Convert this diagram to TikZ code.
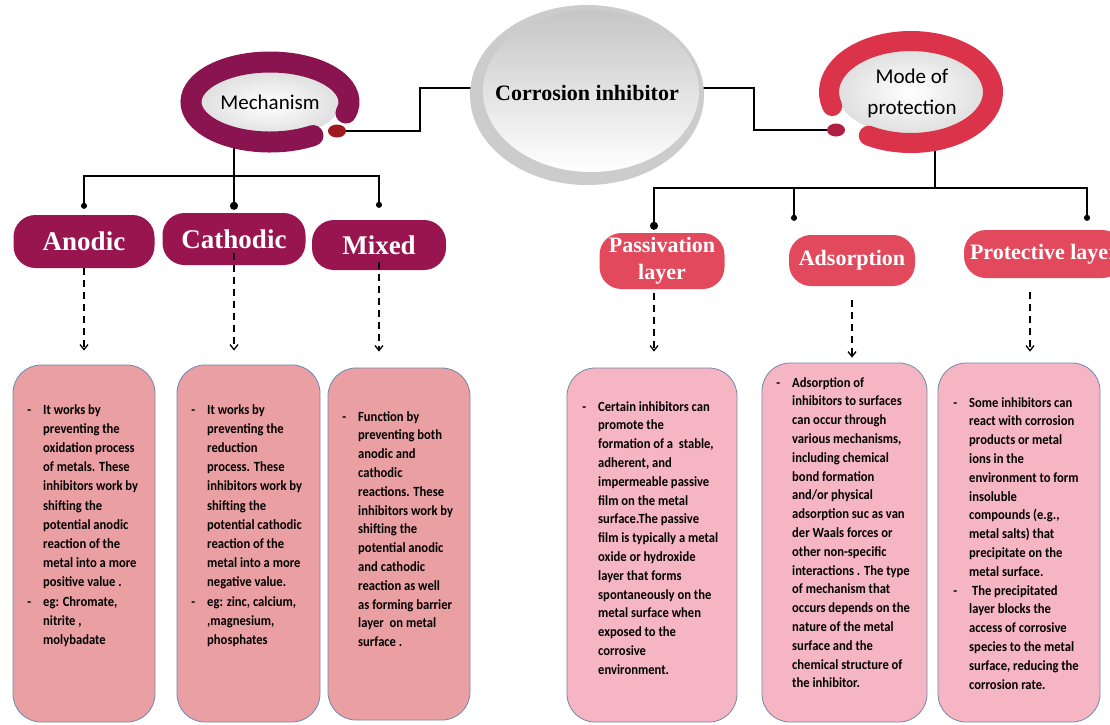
\documentclass[tikz,border=0pt]{standalone}
\usepackage{fontspec}
\setmainfont{Carlito}
\newfontfamily\headfont{Liberation Serif}
\newfontfamily\narrowfont[FakeStretch=0.9]{Carlito}
\usetikzlibrary{arrows.meta,shapes.geometric,backgrounds}
\definecolor{mechred}{HTML}{98154F}
\definecolor{mechring}{HTML}{8A1450}
\definecolor{mechdotc}{HTML}{9E1A1F}
\definecolor{modered}{HTML}{E2495C}
\definecolor{modering}{HTML}{DB3349}
\definecolor{modedotc}{HTML}{B01F45}
\definecolor{leftbox}{HTML}{EA9FA2}
\definecolor{rightbox}{HTML}{F5B5C3}
\definecolor{boxline}{HTML}{7088AA}

\begin{document}
\begin{tikzpicture}[x=1pt,y=-1pt]
\tikzset{
    mechhead/.style={fill=mechred,text=white,rounded corners=22pt,inner sep=0pt,
        font=\headfont\bfseries\fontsize{27}{30}\selectfont},
    modehead/.style={fill=modered,text=white,rounded corners=22pt,inner sep=0pt,align=center,
        font=\headfont\bfseries\fontsize{22}{27}\selectfont},
    infobox/.style={draw=boxline,line width=0.8pt,rounded corners=28pt},
    infotext/.style={anchor=north west,inner sep=0pt,align=left,text=black,
        font=\narrowfont\bfseries\fontsize{14}{18.8}\selectfont},
    tree/.style={line width=1.5pt},
    dotend/.style={tree,-{Circle[length=6pt]}},
    dasharrow/.style={line width=1.3pt,dash pattern=on 7pt off 5pt,
        -{Straight Barb[length=5pt,width=8pt]}}
}
\useasboundingbox (0,0) rectangle (1110,724);

\fill[gray!40] (587,95) ellipse [x radius=117,y radius=90];
\shade[top color=gray!45,bottom color=white] (591,91) ellipse [x radius=108,y radius=81];
\node[inner sep=1pt,font=\headfont\bfseries\fontsize{22}{25}\selectfont] (corr) at (587,93) {Corrosion inhibitor};

\shade[inner color=white,outer color=gray!25] (270,104) ellipse [x radius=70,y radius=33];
\draw[mechring,line width=21pt,line cap=round] (270,102) ++(57:79 and 40)
    arc [start angle=57,end angle=376,x radius=79,y radius=40];
\node[font=\fontsize{21}{24}\selectfont] (mech) at (270,102) {Mechanism};
\node[ellipse,fill=mechdotc,minimum width=18pt,minimum height=13pt,inner sep=0pt] (mechdot) at (337,131) {};

\shade[inner color=white,outer color=gray!25] (911,92) ellipse [x radius=74,y radius=43];
\draw[modering,line width=20pt,line cap=round] (911,92) ++(164:82 and 51)
    arc [start angle=164,end angle=481,x radius=82,y radius=51];
\node[align=center,font=\fontsize{21}{31}\selectfont] (mode) at (912,93) {Mode of\\protection};
\node[ellipse,fill=modedotc,minimum width=18pt,minimum height=13pt,inner sep=0pt] (modedot) at (836,130) {};

\node[mechhead,minimum width=141pt,minimum height=53pt] (anodic) at (84,241.5) {Anodic};
\node[mechhead,minimum width=143pt,minimum height=52pt] (cathodic) at (234,239) {Cathodic};
\node[mechhead,minimum width=134pt,minimum height=50pt] (mixed) at (379,245) {Mixed};

\node[modehead,minimum width=125pt,minimum height=56pt] (passiv) at (662,261) {Passivation\\layer};
\node[modehead,minimum width=126pt,minimum height=51pt] (adsorp) at (852,260.5) {Adsorption};
\node[modehead,minimum width=160pt,minimum height=48pt] (protect) at (1044,254) {Protective layer};

\node[infobox,fill=leftbox,minimum width=142pt,minimum height=357pt] (b1) at (84,543.5) {};
\node[infobox,fill=leftbox,minimum width=143pt,minimum height=357pt] (b2) at (248.5,543.5) {};
\node[infobox,fill=leftbox,minimum width=142pt,minimum height=352pt] (b3) at (399,544) {};
\node[infobox,fill=rightbox,minimum width=170pt,minimum height=354pt] (b4) at (652,545) {};
\node[infobox,fill=rightbox,minimum width=165pt,minimum height=359pt] (b5) at (844.5,542.5) {};
\node[infobox,fill=rightbox,minimum width=162pt,minimum height=359pt] (b6) at (1019,542.5) {};

\node[infotext,font=\narrowfont\bfseries\fontsize{14}{19.2}\selectfont] (t1) at (43,404) {\llap{-\hspace{12pt}}It works by\\
    preventing the\\ oxidation process\\ of metals. These\\ inhibitors work by\\
    shifting the\\ potential anodic\\ reaction of the\\ metal into a more\\
    positive value .\\ \llap{-\hspace{12pt}}eg: Chromate,\\ nitrite ,\\ molybadate};
\node[infotext,font=\narrowfont\bfseries\fontsize{14}{19.2}\selectfont] (t2) at (207,404) {\llap{-\hspace{12pt}}It works by\\
    preventing the\\ reduction\\ process. These\\ inhibitors work by\\
    shifting the\\ potential cathodic\\ reaction of the\\ metal into a more\\
    negative value.\\ \llap{-\hspace{12pt}}eg: zinc, calcium,\\ ,magnesium,\\ phosphates};
\node[infotext] (t3) at (358,411) {\llap{-\hspace{12pt}}Function by\\
    preventing both\\ anodic and\\ cathodic\\ reactions. These\\ inhibitors work by\\
    shifting the\\ potential anodic\\ and cathodic\\ reaction as well\\
    as forming barrier\\ layer\ \ on metal\\ surface .};
\node[infotext] (t4) at (598,401) {\llap{-\hspace{12pt}}Certain inhibitors can\\
    promote the\\ formation of a\ \ stable,\\ adherent, and\\ impermeable passive\\
    film on the metal\\ surface.The passive\\ film is typically a metal\\
    oxide or hydroxide\\ layer that forms\\ spontaneously on the\\
    metal surface when\\ exposed to the\\ corrosive\\ environment.};
\node[infotext] (t5) at (792,377) {\llap{-\hspace{12pt}}Adsorption of\\
    inhibitors to surfaces\\ can occur through\\ various mechanisms,\\
    including chemical\\ bond formation\\ and/or physical\\ adsorption suc as van\\
    der Waals forces or\\ other non-specific\\ interactions . The type\\
    of mechanism that\\ occurs depends on the\\ nature of the metal\\
    surface and the\\ chemical structure of\\ the inhibitor.};
\node[infotext] (t6) at (969,397) {\llap{-\hspace{12pt}}Some inhibitors can\\
    react with corrosion\\ products or metal\\ ions in the\\ environment to form\\
    insoluble\\ compounds (e.g.,\\ metal salts) that\\ precipitate on the\\
    metal surface.\\ \llap{-\hspace{12pt}}\ The precipitated\\ layer blocks the\\
    access of corrosive\\ species to the metal\\ surface, reducing the\\ corrosion rate.};

\coordinate (bendl) at (420,131);
\coordinate (bendr) at (754,130);
\coordinate (mhub) at (234,176);
\coordinate (phub) at (935,188);

\begin{pgfonlayer}{background}
\draw[tree] (mechdot.east) -- (bendl) |- ([yshift=5pt]corr.west);
\draw[tree] ([yshift=5pt]corr.east) -| (bendr) -- (modedot.west);

\draw[tree] ([xshift=-36pt]mech.south) -- (mhub);
\draw[dotend] (mhub) -| ([yshift=6pt]anodic.north);
\draw[dotend,line width=2pt,-{Circle[length=8pt]}] (mhub) -- ([yshift=3pt]cathodic.north);
\draw[dotend] (mhub) -| ([yshift=12pt]mixed.north);

\draw[tree] ([xshift=23pt]mode.south) -- (phub);
\draw[dotend,line width=1.8pt,-{Circle[length=8pt]}] (phub) -| ([xshift=-8pt,yshift=3pt]passiv.north);
\draw[dotend] (phub) -| ([xshift=-58pt,yshift=14pt]adsorp.north);
\draw[dotend] (phub) -| ([xshift=43pt,yshift=9pt]protect.north);
\end{pgfonlayer}

\draw[dasharrow,shorten >=14pt] (anodic.south) -- (anodic.south |- b1.north);
\draw[dasharrow,shorten >=14pt] ([yshift=12pt]cathodic.south) -- (cathodic.south |- b2.north);
\draw[dasharrow,shorten >=16pt] ([yshift=8pt]mixed.south) -- (mixed.south |- b3.north);
\draw[dasharrow,shorten >=16pt] ([xshift=-8pt,yshift=-4pt]passiv.south) -- ([xshift=-8pt]passiv.south |- b4.north);
\draw[dasharrow,shorten >=5pt] ([yshift=-14pt]adsorp.south) -- (adsorp.south |- b5.north);
\draw[dasharrow,shorten >=11pt] ([xshift=-14pt,yshift=-14pt]protect.south) -- ([xshift=-14pt]protect.south |- b6.north);

\end{tikzpicture}
\end{document}
